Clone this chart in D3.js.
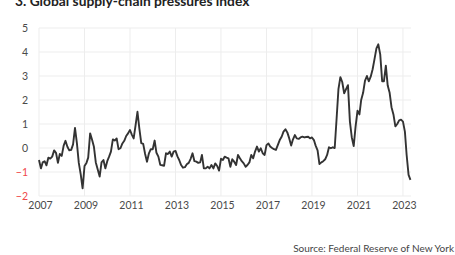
<!DOCTYPE html>
<html>
<head>
<meta charset="utf-8">
<script src="https://cdn.jsdelivr.net/npm/d3@7"></script>
<style>
  body { margin: 0; background: #fff; }
  svg { display: block; font-family: Lato, "Noto Sans", sans-serif; }
</style>
</head>
<body>
<script>
// monthly GSCPI readings, Jan 2007 onwards
const startYear = 2007;
const gscpi = [
  -0.50, -0.85, -0.60, -0.55, -0.72, -0.40, -0.44, -0.36, -0.10, -0.20, -0.62, -0.25, // 2007
  -0.33, 0.10, 0.30, 0.05, -0.10, -0.08, 0.15, 0.84, 0.19, -0.62, -1.10, -1.68,       // 2008
  -0.75, -0.62, -0.40, 0.61, 0.35, 0.05, -0.60, -0.90, -1.19, -0.60, -0.50, -0.85,    // 2009
  -0.55, -0.35, -0.15, 0.36, 0.31, 0.40, -0.05, -0.01, 0.19, 0.30, 0.50, 0.61,        // 2010
  0.75, 0.55, 0.40, 0.95, 1.51, 0.80, 0.20, 0.17, -0.25, -0.57, -0.22, -0.05,         // 2011
  -0.05, 0.31, -0.20, -0.36, -0.70, -0.72, -0.74, -0.22, -0.25, -0.15, -0.36, -0.15,  // 2012
  -0.12, -0.35, -0.50, -0.71, -0.82, -0.80, -0.68, -0.62, -0.45, -0.22, -0.55, -0.57, // 2013
  -0.62, -0.60, -0.29, -0.85, -0.85, -0.78, -0.85, -0.71, -0.85, -0.64, -0.75, -0.94, // 2014
  -0.45, -0.50, -0.36, -0.40, -0.43, -0.78, -0.47, -0.57, -0.71, -0.29, -0.43, -0.55, // 2015
  -0.64, -0.78, -0.71, -0.60, -0.29, -0.43, -0.15, 0.06, -0.15, -0.01, -0.22, -0.29,  // 2016
  0.12, 0.19, 0.06, 0.00, -0.05, -0.08, 0.12, 0.33, 0.47, 0.68, 0.78, 0.65,           // 2017
  0.40, 0.10, 0.35, 0.54, 0.40, 0.38, 0.44, 0.47, 0.44, 0.46, 0.47, 0.40,             // 2018
  0.44, 0.33, 0.10, -0.10, -0.67, -0.60, -0.55, -0.47, -0.29, 0.03, -0.01, 0.03,      // 2019
  0.00, 1.25, 2.45, 2.95, 2.75, 2.28, 2.45, 2.62, 1.10, 0.45, 0.08, 0.89,             // 2020
  1.55, 1.40, 2.00, 2.30, 2.80, 3.00, 2.78, 2.97, 3.28, 3.70, 4.15, 4.32,             // 2021
  3.90, 2.78, 2.78, 3.43, 2.60, 2.30, 1.70, 1.40, 0.90, 1.00, 1.15, 1.18,             // 2022
  1.10, 0.68, -0.29, -1.12, -1.33                                                     // 2023
];
const yearTicks = [2007, 2009, 2011, 2013, 2015, 2017, 2019, 2021, 2023];
const valueTicks = [-2, -1, 0, 1, 2, 3, 4, 5];

const W = 455, H = 255;
const svg = d3.select("body").append("svg")
    .attr("width", W)
    .attr("height", H);

const x = d3.scaleUtc()
    .domain([new Date(Date.UTC(2007, 0, 1)), new Date(Date.UTC(2023, 4, 10))])
    .range([39, 411]);
const y = d3.scaleLinear()
    .domain([-2, 5])
    .range([196, 28]);

const series = gscpi.map((v, i) => ({ date: new Date(Date.UTC(startYear, i, 1)), v: v }));

// gridlines
svg.append("g")
    .selectAll("line")
    .data(valueTicks)
    .enter().append("line")
    .attr("x1", 39).attr("x2", 411)
    .attr("y1", d => y(d)).attr("y2", d => y(d))
    .attr("stroke", "#ededed")
    .attr("stroke-width", 1);
svg.append("g")
    .selectAll("line")
    .data(yearTicks)
    .enter().append("line")
    .attr("x1", d => x(new Date(Date.UTC(d, 0, 1))))
    .attr("x2", d => x(new Date(Date.UTC(d, 0, 1))))
    .attr("y1", y(5)).attr("y2", y(-2))
    .attr("stroke", "#ededed")
    .attr("stroke-width", 1);

// y axis labels
const yAxis = svg.append("g")
    .attr("transform", "translate(28,0)")
    .call(d3.axisLeft(y).tickValues(valueTicks).tickSize(0).tickPadding(0).tickFormat(d3.format("d")));
yAxis.select(".domain").remove();
yAxis.selectAll("text")
    .attr("font-size", 10.5)
    .attr("font-family", "Lato, sans-serif")
    .attr("fill", d => d < 0 ? "#f0484a" : "#4a4a4a");

// x axis labels
const xAxis = svg.append("g")
    .attr("transform", "translate(1,202)")
    .call(d3.axisBottom(x)
        .tickValues(yearTicks.map(d => new Date(Date.UTC(d, 0, 1))))
        .tickSize(0).tickPadding(0)
        .tickFormat(d3.utcFormat("%Y")));
xAxis.select(".domain").remove();
xAxis.selectAll("text")
    .attr("font-size", 10.5)
    .attr("font-family", "Lato, sans-serif")
    .attr("fill", "#4a4a4a");

// the index line
svg.append("path")
    .datum(series)
    .attr("fill", "none")
    .attr("stroke", "#333")
    .attr("stroke-width", 1.9)
    .attr("stroke-linejoin", "round")
    .attr("d", d3.line().x(d => x(d.date)).y(d => y(d.v)));

// title (cut off at the top of the picture, as in the original)
svg.append("text")
    .attr("x", 15)
    .attr("y", 6)
    .attr("font-size", 13.8)
    .attr("font-weight", "bold")
    .attr("fill", "#222")
    .text("3. Global supply-chain pressures index");

svg.append("text")
    .attr("x", 454)
    .attr("y", 252)
    .attr("text-anchor", "end")
    .attr("font-size", 10)
    .attr("fill", "#444")
    .text("Source: Federal Reserve of New York");
</script>
</body>
</html>
